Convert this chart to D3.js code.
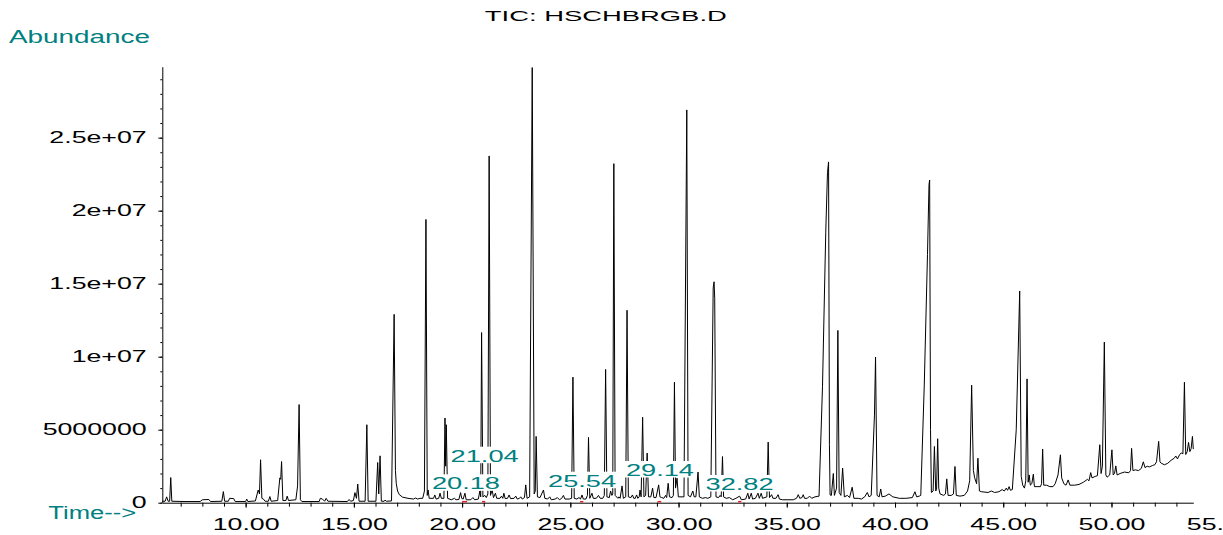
<!DOCTYPE html>
<html>
<head>
<meta charset="utf-8">
<script src="https://cdn.jsdelivr.net/npm/d3@7"></script>
<style>
  body { margin: 0; background: #fff; overflow: hidden; }
  svg { display: block; font-family: "Liberation Sans", Arial, sans-serif; }
</style>
</head>
<body>
<svg id="chart"></svg>
<script>
// TIC trace: [retention time (min), abundance (millions)]
const trace = [
  [6.15,0.10],[6.28,0.10],[6.35,0.40],[6.42,0.10],[6.49,0.10],[6.54,1.72],[6.59,0.10],
  [7.2,0.08],[7.9,0.08],[8.0,0.2],[8.3,0.22],[8.38,0.08],
  [8.9,0.1],[8.97,0.76],[9.03,0.1],
  [9.2,0.1],[9.26,0.3],[9.45,0.28],[9.52,0.08],
  [10.0,0.08],[10.05,0.25],[10.1,0.08],
  [10.45,0.12],[10.58,0.87],[10.64,0.6],[10.69,2.94],[10.75,0.3],[10.82,0.25],[10.9,0.1],
  [11.05,0.1],[11.12,0.42],[11.18,0.1],
  [11.48,0.15],[11.58,1.7],[11.62,1.6],[11.66,2.82],[11.72,0.15],
  [11.86,0.15],[11.92,0.45],[11.98,0.15],
  [12.32,0.2],[12.4,1.15],[12.47,6.72],[12.53,0.2],[12.6,0.08],
  [13.4,0.08],[13.45,0.3],[13.55,0.25],[13.65,0.1],[13.72,0.3],[13.8,0.1],
  [14.7,0.08],[14.78,0.22],[14.85,0.1],
  [14.98,0.15],[15.05,0.69],[15.12,0.3],[15.18,1.28],[15.24,0.1],
  [15.52,0.1],[15.6,5.34],[15.66,0.1],
  [16.02,0.1],[16.1,2.75],[16.15,0.6],[16.21,3.21],[16.27,0.1],
  [16.4,0.1],[16.44,0.18],[16.5,0.1],
  [16.74,0.12],[16.86,12.9],[16.92,2.2],[16.96,1.3],[17.02,0.8],[17.1,0.55],[17.25,0.38],[17.5,0.3],[17.75,0.25],
  [17.85,0.32],[17.95,0.25],[18.05,0.3],[18.18,0.3],
  [18.26,0.8],[18.33,19.4],[18.39,0.5],[18.43,0.87],[18.48,0.3],
  [18.68,0.3],[18.74,0.53],[18.8,0.25],
  [18.92,0.3],[18.98,0.65],[19.04,0.3],
  [19.16,0.3],[19.21,5.8],[19.24,2.5],[19.27,5.34],[19.33,0.3],
  [19.5,0.2],[19.65,0.3],[19.72,0.2],[19.85,0.22],
  [19.93,0.69],[19.98,0.3],[20.05,0.25],[20.13,0.65],[20.19,0.2],
  [20.4,0.2],[20.5,0.35],[20.58,0.2],[20.75,0.25],
  [20.82,0.8],[20.86,0.4],[20.9,11.65],[20.96,0.4],[21.05,0.5],[21.12,0.35],
  [21.19,0.6],[21.25,23.75],[21.31,0.5],
  [21.39,0.87],[21.45,0.35],[21.54,0.65],[21.6,0.3],
  [21.75,0.3],[21.82,0.45],[21.88,0.3],[21.93,0.65],[21.99,0.28],
  [22.1,0.3],[22.17,0.53],[22.24,0.28],[22.4,0.3],[22.48,0.45],[22.55,0.25],
  [22.65,0.3],[22.71,0.4],[22.78,0.25],[22.88,0.35],[22.94,1.22],[23.0,0.3],
  [23.12,0.4],[23.24,29.8],[23.33,0.6],[23.38,0.8],[23.42,4.54],[23.48,0.4],
  [23.6,0.35],[23.76,0.87],[23.82,0.3],
  [23.95,0.25],[24.05,0.4],[24.12,0.2],[24.3,0.25],[24.4,0.35],[24.5,0.2],[24.6,0.3],[24.68,0.5],[24.75,0.25],[24.95,0.25],
  [25.06,0.3],[25.12,8.6],[25.18,0.3],
  [25.3,0.25],[25.4,0.35],[25.47,0.25],[25.54,0.53],[25.6,0.25],[25.72,0.25],
  [25.79,0.5],[25.84,4.47],[25.9,0.3],[26.0,0.65],[26.06,0.3],
  [26.2,0.3],[26.3,0.5],[26.38,0.3],[26.5,0.3],
  [26.57,0.5],[26.63,9.13],[26.69,0.4],[26.8,0.35],[26.86,0.8],[26.92,0.5],
  [26.96,0.6],[27.01,23.22],[27.07,0.5],
  [27.2,0.3],[27.24,0.4],[27.3,0.3],[27.39,1.15],[27.45,0.3],
  [27.56,0.4],[27.62,13.18],[27.68,0.4],
  [27.8,0.35],[27.87,0.53],[27.93,0.3],[28.0,0.3],[28.06,0.53],[28.12,0.3],
  [28.18,0.4],[28.22,0.87],[28.27,0.4],[28.34,5.85],[28.4,0.4],[28.48,0.5],[28.55,3.4],[28.61,0.4],
  [28.72,0.4],[28.8,1.0],[28.86,0.35],[28.96,0.35],[29.08,1.22],[29.14,0.4],[29.22,0.35],
  [29.32,0.3],[29.4,0.5],[29.45,0.35],[29.52,1.33],[29.58,0.4],
  [29.7,0.35],[29.76,0.5],[29.81,8.25],[29.86,1.0],[29.93,1.68],[29.99,0.4],
  [30.25,0.4],[30.38,26.9],[30.44,0.5],[30.55,0.4],
  [30.66,0.8],[30.72,0.4],[30.8,0.4],[30.9,2.1],[30.96,0.4],
  [31.1,0.3],[31.25,0.35],[31.35,0.3],
  [31.49,0.4],[31.6,14.7],[31.64,15.13],[31.67,14.0],[31.73,0.4],
  [31.85,0.35],[31.92,0.5],[31.97,0.4],[32.03,3.16],[32.08,0.4],
  [32.2,0.3],[32.35,0.35],[32.5,0.2],[32.65,0.3],[32.82,0.45],[32.9,0.2],
  [33.1,0.25],[33.2,0.65],[33.26,0.25],[33.36,0.65],[33.42,0.25],
  [33.55,0.3],[33.67,0.65],[33.73,0.3],[33.82,0.65],[33.88,0.3],
  [34.08,0.4],[34.14,4.15],[34.2,0.35],[34.3,0.55],[34.36,0.3],
  [34.5,0.3],[34.6,0.55],[34.66,0.25],[34.8,0.2],[35.1,0.2],[35.3,0.2],
  [35.45,0.3],[35.53,0.55],[35.6,0.3],[35.7,0.35],[35.76,0.55],[35.82,0.3],
  [35.95,0.3],[36.05,0.45],[36.15,0.3],[36.3,0.4],
  [36.49,0.45],[36.65,7.98],[36.8,18.53],[36.88,22.6],[36.93,23.34],[36.97,4.0],[37.0,0.53],
  [37.06,0.5],[37.15,2.0],[37.2,0.5],
  [37.3,1.0],[37.36,11.8],[37.42,0.7],[37.5,0.5],[37.58,2.37],[37.66,0.4],
  [37.8,0.5],[37.9,0.35],[38.02,1.06],[38.1,0.3],
  [38.3,0.3],[38.45,0.25],[38.6,0.4],[38.72,0.7],[38.8,0.4],
  [38.9,0.5],[39.05,6.0],[39.1,9.97],[39.17,0.5],
  [39.27,0.4],[39.34,0.94],[39.4,0.4],[39.55,0.45],[39.72,0.6],[39.9,0.4],
  [40.2,0.3],[40.5,0.3],[40.8,0.35],[40.92,0.75],[41.0,0.4],[41.12,0.45],
  [41.19,0.5],[41.35,8.0],[41.5,17.0],[41.57,21.8],[41.6,22.1],[41.64,5.0],[41.68,0.7],
  [41.76,0.8],[41.82,3.85],[41.88,0.8],[41.92,0.9],[41.97,4.38],[42.02,1.0],[42.08,0.6],
  [42.25,0.5],[42.33,0.6],[42.39,1.63],[42.45,0.5],
  [42.6,0.5],[42.7,0.6],[42.77,2.48],[42.83,0.5],
  [43.0,0.45],[43.2,0.5],[43.35,0.8],[43.45,1.5],[43.54,8.05],[43.62,2.2],[43.68,1.7],[43.77,1.3],[43.83,3.05],[43.9,0.8],
  [44.0,0.75],[44.3,0.7],[44.45,0.8],[44.6,0.7],[44.8,0.75],[44.95,0.9],[45.05,0.8],[45.14,1.0],[45.2,0.85],[45.27,1.1],[45.33,0.85],
  [45.42,0.9],[45.6,5.0],[45.76,14.5],[45.83,1.8],[45.9,1.2],[45.98,1.0],
  [46.04,1.5],[46.1,8.48],[46.15,1.4],[46.2,1.9],[46.25,1.2],[46.32,1.3],[46.39,1.95],[46.44,1.1],
  [46.6,1.1],[46.72,1.1],[46.77,1.3],[46.82,3.67],[46.87,1.2],
  [47.0,1.2],[47.15,1.1],[47.3,1.1],[47.4,1.3],[47.53,1.9],[47.64,3.28],[47.7,1.7],[47.8,1.3],[47.9,1.2],[48.0,1.56],[48.08,1.2],
  [48.3,1.2],[48.5,1.25],[48.7,1.4],[48.89,1.6],[48.96,1.5],[49.04,2.06],[49.1,1.7],[49.25,1.8],[49.35,1.85],[49.46,3.97],[49.52,2.0],[49.58,2.5],[49.67,11.0],[49.74,1.9],[49.8,1.75],
  [49.92,1.9],[50.02,3.62],[50.08,1.9],[50.14,2.0],[50.2,2.52],[50.26,1.9],
  [50.4,2.0],[50.6,2.1],[50.8,2.05],[50.88,2.2],[50.93,3.72],[50.99,2.2],[51.1,2.25],[51.25,2.2],
  [51.38,2.35],[51.47,2.8],[51.55,2.4],[51.65,2.5],[51.75,2.45],[51.9,2.55],[52.0,2.6],[52.08,2.8],[52.18,4.2],[52.24,2.8],[52.3,2.7],[52.45,2.6],[52.6,2.7],[52.75,2.9],[52.9,3.05],[52.97,3.2],[53.05,3.0],[53.15,3.3],[53.22,3.4],[53.3,3.35],[53.37,8.25],[53.43,3.3],[53.5,3.5],[53.56,4.13],[53.62,3.5],[53.68,3.7],[53.74,4.54],[53.78,3.67]
];

// axis ticks
const yTickValues = [0, 5e6, 1e7, 1.5e7, 2e7, 2.5e7];
const yTickLabels = ["0", "5000000", "1e+07", "1.5e+07", "2e+07", "2.5e+07"];
const xTickValues = [10, 15, 20, 25, 30, 35, 40, 45, 50, 55];
const xTickLabels = ["10.00", "15.00", "20.00", "25.00", "30.00", "35.00", "40.00", "45.00", "50.00", "55.00"];

// labelled peaks and their integration baselines (min)
const peakTimes = [20.18, 21.04, 25.54, 29.14, 32.82];
const peakNames = ["20.18", "21.04", "25.54", "29.14", "32.82"];
const integrations = [[20.0, 20.23], [20.92, 21.07], [25.45, 25.6], [29.03, 29.2], [32.75, 32.9]];

// layout only: baseline of each peak label (px)
const labelBaseline = [489.3, 461.7, 486.7, 476, 490];

const width = 1223, height = 535;
const teal = "#008080";

const svg = d3.select("#chart").attr("width", width).attr("height", height);

const x = d3.scaleLinear().domain([6.15, 53.78]).range([162.3, 1193.3]);
const y = d3.scaleLinear().domain([0, 2.986e7]).range([502.7, 66.7]);

// horizontally stretched lettering like the instrument printout
function widen(sel, k) {
  sel.each(function () {
    const w = this.getComputedTextLength();
    this.setAttribute("textLength", w * k);
    this.setAttribute("lengthAdjust", "spacingAndGlyphs");
  });
}

// x axis: minor ticks every minute
svg.append("g")
  .attr("transform", `translate(0,${y(0)})`)
  .call(d3.axisBottom(x).tickValues(d3.range(7, 54)).tickSize(4).tickSizeOuter(0).tickFormat(""))
  .call(g => g.selectAll("line,path").attr("stroke", "#000"));

// x axis: major ticks + labels
const xMajor = svg.append("g")
  .attr("transform", `translate(0,${y(0)})`)
  .call(d3.axisBottom(x).tickValues(xTickValues).tickSize(5).tickPadding(11)
    .tickFormat((d, i) => xTickLabels[i]))
  .call(g => g.select(".domain").remove());
xMajor.selectAll(".tick line").attr("stroke", "#000")
  .filter(d => d > x.domain()[1]).remove();
xMajor.selectAll("text").attr("font-size", 16.5).attr("fill", "#000").call(widen, 1.62);

// y axis: minor ticks every 1e6
svg.append("g")
  .attr("transform", `translate(${x.range()[0]},0)`)
  .call(d3.axisLeft(y).tickValues(d3.range(0, 2.95e7, 1e6)).tickSize(2).tickSizeOuter(0).tickFormat(""))
  .call(g => g.selectAll("line,path").attr("stroke", "#000"));

const yMajor = svg.append("g")
  .attr("transform", `translate(${x.range()[0]},0)`)
  .call(d3.axisLeft(y).tickValues(yTickValues).tickSize(4).tickPadding(11.6)
    .tickFormat((d, i) => yTickLabels[i]))
  .call(g => g.select(".domain").remove());
yMajor.selectAll(".tick line").attr("stroke", "#000");
yMajor.selectAll("text").attr("font-size", 16.5).attr("fill", "#000").call(widen, 1.62);

// trace
const line = d3.line().x(d => x(d[0])).y(d => y(d[1] * 1e6));
svg.append("path")
  .datum(trace)
  .attr("d", line)
  .attr("fill", "none")
  .attr("stroke", "#000")
  .attr("stroke-width", 1)
  .attr("stroke-linejoin", "round");

// integration baselines
svg.selectAll(".integ")
  .data(integrations)
  .enter().append("line")
  .attr("class", "integ")
  .attr("x1", d => x(d[0])).attr("x2", d => x(d[1]))
  .attr("y1", y(0.07e6)).attr("y2", y(0.07e6))
  .attr("stroke", "#d22").attr("stroke-width", 1.5);

// peak labels with white backing
const labels = svg.selectAll(".peak")
  .data(peakTimes)
  .enter().append("g")
  .attr("class", "peak")
  .attr("transform", (d, i) => `translate(${x(d)},${labelBaseline[i]})`);
labels.append("rect")
  .attr("x", -36).attr("y", -15).attr("width", 72).attr("height", 16.5)
  .attr("fill", "#fff");
labels.append("text")
  .attr("text-anchor", "middle")
  .attr("font-size", 17)
  .attr("fill", teal)
  .text((d, i) => peakNames[i])
  .attr("textLength", 68).attr("lengthAdjust", "spacingAndGlyphs");

// titles
svg.append("text")
  .attr("x", 605.8).attr("y", 21)
  .attr("text-anchor", "middle")
  .attr("font-size", 15)
  .attr("fill", "#000")
  .text("TIC: HSCHBRGB.D")
  .attr("textLength", 242).attr("lengthAdjust", "spacingAndGlyphs");

svg.append("text")
  .attr("x", 9).attr("y", 43.3)
  .attr("font-size", 17.5)
  .attr("fill", teal)
  .text("Abundance")
  .attr("textLength", 141).attr("lengthAdjust", "spacingAndGlyphs");

svg.append("text")
  .attr("x", 48.3).attr("y", 519.3)
  .attr("font-size", 17.5)
  .attr("fill", teal)
  .text("Time-->")
  .attr("textLength", 88).attr("lengthAdjust", "spacingAndGlyphs");
</script>
</body>
</html>
